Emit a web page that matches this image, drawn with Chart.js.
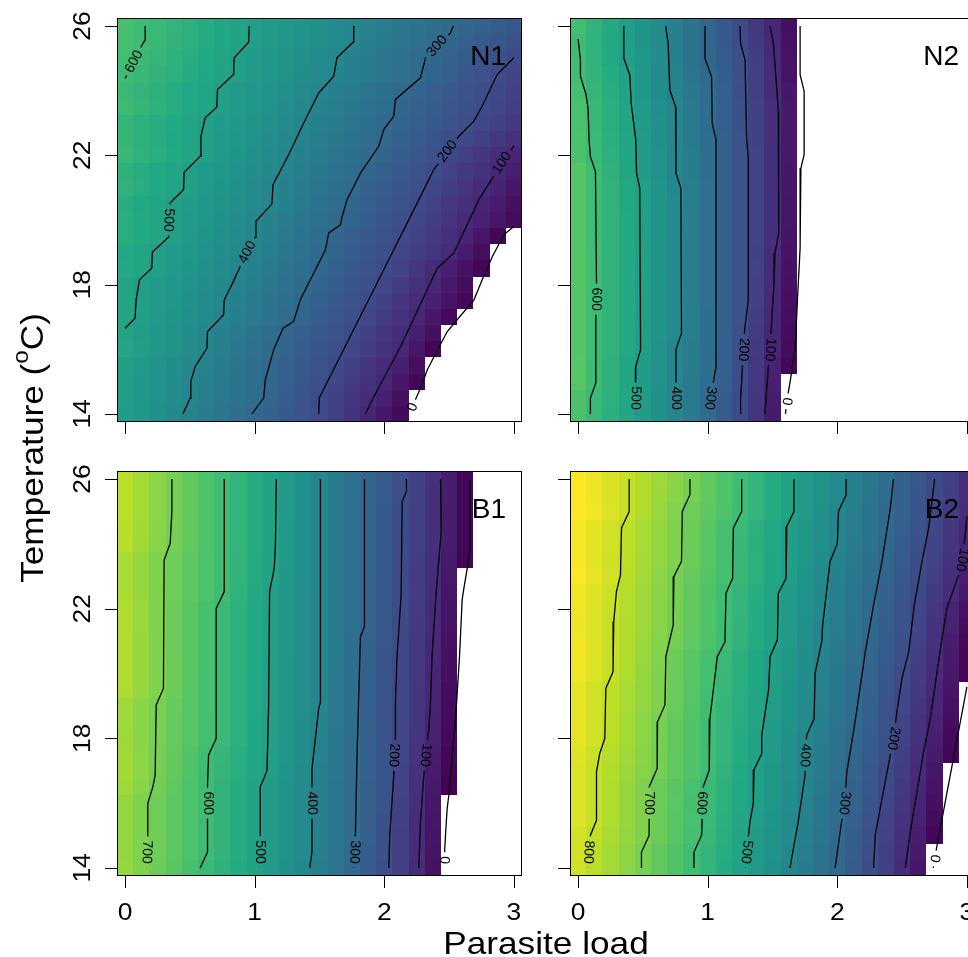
<!DOCTYPE html>
<html>
<head>
<meta charset="utf-8">
<script src="https://cdn.jsdelivr.net/npm/chart.js@4.4.1/dist/chart.umd.min.js"></script>
<style>
html, body { margin: 0; padding: 0; background: #fff; overflow: hidden; width: 968px; height: 957px; }
canvas { position: absolute; left: 0; top: 0; }
</style>
</head>
<body>
<canvas id="n1" width="980" height="957"></canvas>
<canvas id="n2" width="980" height="957"></canvas>
<canvas id="b1" width="980" height="957"></canvas>
<canvas id="b2" width="980" height="957"></canvas>
<script>
// grid of the image cells: temperature rows and parasite-load columns
const tRows = [14, 14.5, 15, 15.5, 16, 16.5, 17, 17.5, 18, 18.5, 19, 19.5, 20, 20.5, 21, 21.5, 22, 22.5, 23, 23.5, 24, 24.5, 25, 25.5, 26];
const xCols = [0, 0.125, 0.25, 0.375, 0.5, 0.625, 0.75, 0.875, 1, 1.125, 1.25, 1.375, 1.5, 1.625, 1.75, 1.875, 2, 2.125, 2.25, 2.375, 2.5, 2.625, 2.75, 2.875, 3];
const xTicks = [0, 1, 2, 3];
const yTicks = [14, 18, 22, 26];
const zMax = 880;

// last coloured column in each row (rows from 14 up to 26), white beyond it
const n1Edge = [2.125, 2.125, 2.25, 2.25, 2.375, 2.375, 2.5, 2.625, 2.625, 2.75, 2.75, 2.875, 3, 3, 3, 3, 3, 3, 3, 3, 3, 3, 3, 3, 3];
const n2Edge = [1.5, 1.5, 1.5, 1.625, 1.625, 1.625, 1.625, 1.625, 1.625, 1.625, 1.625, 1.625, 1.625, 1.625, 1.625, 1.625, 1.625, 1.625, 1.625, 1.625, 1.625, 1.625, 1.625, 1.625, 1.625];
const b1Edge = [2.375, 2.375, 2.375, 2.375, 2.375, 2.5, 2.5, 2.5, 2.5, 2.5, 2.5, 2.5, 2.5, 2.5, 2.5, 2.5, 2.5, 2.5, 2.5, 2.625, 2.625, 2.625, 2.625, 2.625, 2.625];
const b2Edge = [2.625, 2.625, 2.75, 2.75, 2.75, 2.75, 2.75, 2.875, 2.875, 2.875, 2.875, 2.875, 3, 3, 3, 3, 3, 3, 3, 3, 3, 3, 3, 3, 3];

// contour lines, [parasite load, temperature]
const n1_600 = [[0, 24.38], [0.142, 25.5], [0.155, 25.56], [0.155, 26]];
const n1_500 = [[0, 16.65], [0.077, 16.96], [0.085, 17.53], [0.111, 18.15], [0.206, 18.51], [0.211, 19.01], [0.335, 19.47], [0.348, 20.53], [0.451, 20.94], [0.456, 21.48], [0.579, 21.97], [0.585, 22.59], [0.618, 23.16], [0.708, 23.5], [0.713, 24.04], [0.837, 24.5], [0.842, 25.02], [0.953, 25.5], [0.958, 26]];
const n1_400 = [[0.446, 14], [0.502, 14.49], [0.507, 15], [0.541, 15.47], [0.631, 16.03], [0.636, 16.55], [0.76, 17.07], [0.765, 17.53], [0.824, 18], [0.888, 18.56], [1.004, 19.47], [1.01, 19.96], [1.133, 20.5], [1.141, 21.09], [1.262, 22.02], [1.378, 23], [1.494, 23.93], [1.61, 24.45], [1.635, 25.02], [1.759, 25.5], [1.764, 26]];
const n1_300 = [[0.979, 14], [1.069, 14.49], [1.082, 15.05], [1.146, 15.98], [1.218, 16.65], [1.3, 16.86], [1.352, 17.53], [1.442, 18.25], [1.546, 19.08], [1.571, 19.6], [1.662, 19.85], [1.675, 20.11], [1.713, 20.63], [1.816, 21.45], [1.957, 22.28], [1.996, 22.8], [2.073, 23.21], [2.086, 23.73], [2.279, 24.4], [2.318, 25.02], [2.511, 25.79], [2.532, 26]];
const n1_200 = [[1.494, 14], [1.499, 14.5], [1.884, 17.57], [2.267, 20.63], [2.382, 21.56], [2.575, 22.59], [2.691, 23.06], [2.755, 23.52], [2.871, 24.5], [3, 25.02]];
const n1_100 = [[1.855, 14], [1.893, 14.33], [2.125, 16.08], [2.409, 18.51], [2.537, 18.98], [2.73, 20.63], [2.82, 21.2], [3, 22.3]];
const n1_0 = [[2.2, 14], [2.241, 14.45], [2.29, 14.9], [2.331, 15.36], [2.4, 15.9], [2.486, 16.55], [2.58, 17], [2.692, 17.53], [2.76, 18.2], [2.834, 18.87], [2.924, 19.55], [3, 19.8]];

const n2_600 = [[0, 25.6], [0.018, 24.95], [0.018, 24.45], [0.06, 23.9], [0.077, 23.45], [0.085, 22.48], [0.095, 21.96], [0.134, 21.5], [0.142, 18.05], [0.137, 17.07], [0.137, 14.96], [0.095, 14.49], [0.095, 14]];
const n2_500 = [[0.353, 26], [0.353, 25], [0.399, 24.48], [0.41, 23.6], [0.445, 22.48], [0.451, 21.45], [0.476, 20.98], [0.482, 15.99], [0.445, 15.47], [0.445, 14.96], [0.44, 14]];
const n2_400 = [[0.675, 26], [0.695, 25.46], [0.708, 24.02], [0.752, 23.5], [0.755, 21.45], [0.793, 20.98], [0.798, 16.5], [0.755, 15.99], [0.755, 14]];
const n2_300 = [[0.979, 26], [0.979, 25], [1.03, 24.43], [1.035, 22.99], [1.064, 22.48], [1.064, 15.47], [1.043, 14.96], [1.02, 14.49], [1.015, 14]];
const n2_200 = [[1.249, 26], [1.254, 25.46], [1.288, 24.95], [1.3, 22.53], [1.313, 21.91], [1.313, 17.53], [1.285, 16.6], [1.275, 15.99], [1.262, 15], [1.254, 14.49], [1.254, 14]];
const n2_100 = [[1.481, 26], [1.507, 25.46], [1.545, 23.4], [1.55, 21.03], [1.545, 19.59], [1.519, 18.97], [1.512, 18.05], [1.494, 16.91], [1.481, 15.99], [1.468, 15.47], [1.442, 14]];
const n2_0 = [[1.713, 26], [1.713, 24.5], [1.744, 23.99], [1.744, 22.03], [1.719, 21.6], [1.713, 19.13], [1.693, 17.58], [1.675, 16.03], [1.636, 15], [1.61, 14.39], [1.6, 14]];

const b1_700 = [[0.361, 26], [0.361, 25], [0.348, 24.02], [0.301, 23.5], [0.296, 19.54], [0.24, 19.03], [0.232, 16.86], [0.214, 16.5], [0.175, 15.99], [0.175, 15], [0.167, 14]];
const b1_600 = [[0.765, 26], [0.765, 22.53], [0.703, 22.01], [0.703, 18], [0.644, 17.48], [0.636, 16.55], [0.636, 14.49], [0.579, 14]];
const b1_500 = [[1.167, 26], [1.16, 24], [1.151, 23.25], [1.115, 22.53], [1.107, 18.92], [1.095, 17], [1.043, 16.5], [1.043, 14]];
const b1_400 = [[1.507, 26], [1.507, 19.13], [1.494, 18.92], [1.442, 17.07], [1.442, 14.49], [1.424, 14]];
const b1_300 = [[1.847, 26], [1.847, 21.45], [1.816, 21.14], [1.79, 17.53], [1.777, 15], [1.764, 14]];
const b1_200 = [[2.171, 26], [2.171, 25.62], [2.138, 25.31], [2.13, 22.42], [2.099, 20.57], [2.086, 19.13], [2.086, 18.1], [2.073, 16.86], [2.042, 15], [2.035, 14]];
const b1_100 = [[2.434, 26], [2.439, 24.38], [2.4, 22.5], [2.369, 20.57], [2.357, 19.13], [2.344, 18.3], [2.318, 17.48], [2.305, 16.86], [2.279, 15.42], [2.266, 14]];
const b1_0 = [[2.66, 26], [2.66, 23.8], [2.64, 23.25], [2.614, 22.63], [2.601, 22.29], [2.58, 20.5], [2.55, 18.61], [2.498, 16.25], [2.485, 15.83], [2.472, 15], [2.459, 14]];

const b2_800 = [[0.394, 26], [0.394, 25], [0.335, 24.49], [0.327, 23.04], [0.296, 22.53], [0.275, 21.6], [0.27, 20.06], [0.214, 19.54], [0.206, 18], [0.167, 17.53], [0.142, 16.97], [0.142, 15.47], [0.095, 15.01], [0.08, 14]];
const b2_700 = [[0.863, 26], [0.863, 25.52], [0.804, 25], [0.798, 23.46], [0.739, 22.99], [0.734, 21.5], [0.677, 20.52], [0.67, 19.03], [0.613, 18.51], [0.61, 17.07], [0.548, 16.5], [0.548, 15], [0.489, 14.49], [0.489, 14]];
const b2_600 = [[1.262, 26], [1.262, 25], [1.198, 24.49], [1.192, 22.94], [1.141, 22.48], [1.133, 20.98], [1.074, 20.52], [1.017, 18.61], [1.012, 17.02], [0.966, 16.5], [0.953, 15.01], [0.894, 14.49], [0.894, 14]];
const b2_500 = [[1.666, 26], [1.666, 25], [1.61, 24.54], [1.605, 22.94], [1.545, 22.48], [1.538, 21.04], [1.481, 20.52], [1.47, 19.5], [1.417, 18.1], [1.417, 17.53], [1.357, 17.02], [1.352, 15.99], [1.326, 15.42], [1.3, 14.49], [1.29, 14]];
const b2_400 = [[2.068, 26], [2.068, 25.52], [2.009, 25], [2, 24], [1.944, 23.46], [1.887, 21.5], [1.88, 20.98], [1.829, 20.01], [1.821, 18.61], [1.764, 18.1], [1.751, 17.48], [1.751, 16.86], [1.7, 15.47], [1.635, 14]];
const b2_300 = [[2.434, 26], [2.409, 25.1], [2.345, 23.46], [2.28, 22.12], [2.216, 20.67], [2.164, 19.23], [2.125, 18.2], [2.074, 16.97], [2.055, 16.05], [2.035, 15.47], [1.983, 14]];
const b2_200 = [[2.751, 26], [2.705, 24.49], [2.654, 23.46], [2.594, 22.12], [2.551, 20.67], [2.499, 19.85], [2.46, 18.82], [2.434, 18], [2.409, 17.48], [2.345, 16.14], [2.293, 15.01], [2.28, 14]];
const b2_100 = [[3, 24.85], [2.985, 24.2], [2.963, 23.51], [2.937, 23.05], [2.847, 22.02], [2.808, 21.09], [2.77, 20.06], [2.718, 18.62], [2.666, 17.58], [2.615, 16.35], [2.563, 15.11], [2.525, 14]];
const b2_0 = [[2.74, 14], [2.77, 14.7], [3, 19.59]];

// contour labels: [level, parasite load, temperature]
const n1Labels = [[600, 0.07, 24.9], [500, 0.335, 20], [400, 0.944, 19], [300, 2.408, 25.38], [200, 2.489, 22.13], [100, 2.91, 21.76], [0, 2.22, 14.21]];
const n2Labels = [[600, 0.14, 17.55], [500, 0.443, 14.49], [400, 0.755, 14.49], [300, 1.02, 14.49], [200, 1.275, 15.99], [100, 1.481, 15.99], [0, 1.61, 14.39]];
const b1Labels = [[700, 0.167, 14.49], [600, 0.636, 16.0], [500, 1.043, 14.49], [400, 1.442, 16.0], [300, 1.77, 14.49], [200, 2.073, 17.48], [100, 2.318, 17.48], [0, 2.462, 14.24]];
const b2Labels = [[800, 0.08, 14.49], [700, 0.548, 16.0], [600, 0.953, 16.0], [500, 1.3, 14.49], [400, 1.751, 17.48], [300, 2.055, 16.0], [200, 2.434, 18], [100, 2.963, 23.51], [0, 2.751, 14.29]];

const viridis = ['#440154', '#482475', '#414487', '#355f8d', '#2a788e', '#21918c', '#22a884', '#44bf70', '#7ad151', '#bddf26', '#fde725'];
const FONT = '"Liberation Sans", Arial, Helvetica, sans-serif';

const panels = [
    { id: 'n1', name: 'N1', box: [117, 18, 522, 422], levels: [600, 500, 400, 300, 200, 100, 0], lines: [n1_600, n1_500, n1_400, n1_300, n1_200, n1_100, n1_0], labels: n1Labels, edge: n1Edge, xLab: false, yLab: true, titles: true },
    { id: 'n2', name: 'N2', box: [570, 18, 975, 422], levels: [600, 500, 400, 300, 200, 100, 0], lines: [n2_600, n2_500, n2_400, n2_300, n2_200, n2_100, n2_0], labels: n2Labels, edge: n2Edge, xLab: false, yLab: false },
    { id: 'b1', name: 'B1', box: [117, 471, 522, 876], levels: [700, 600, 500, 400, 300, 200, 100, 0], lines: [b1_700, b1_600, b1_500, b1_400, b1_300, b1_200, b1_100, b1_0], labels: b1Labels, edge: b1Edge, xLab: true, yLab: true },
    { id: 'b2', name: 'B2', box: [570, 471, 975, 876], levels: [800, 700, 600, 500, 400, 300, 200, 100, 0], lines: [b2_800, b2_700, b2_600, b2_500, b2_400, b2_300, b2_200, b2_100, b2_0], labels: b2Labels, edge: b2Edge, xLab: true, yLab: false }
];

function crossAt(line, t) {
    for (let i = 0; i < line.length - 1; i++) {
        const p = line[i], q = line[i + 1];
        if (p[1] === q[1]) continue;
        if (t >= Math.min(p[1], q[1]) && t <= Math.max(p[1], q[1])) {
            return p[0] + (t - p[1]) / (q[1] - p[1]) * (q[0] - p[0]);
        }
    }
    return null;
}

function valueAt(p, x, t) {
    const pts = [];
    p.levels.forEach((lv, k) => {
        const cx = crossAt(p.lines[k], t);
        if (cx !== null) pts.push([cx, lv]);
    });
    pts.sort((a, b) => a[0] - b[0]);
    let i = 0;
    while (i < pts.length - 2 && x > pts[i + 1][0]) i++;
    const a = pts[i], b = pts[i + 1];
    return a[1] + (x - a[0]) / (b[0] - a[0]) * (b[1] - a[1]);
}

function hexRgb(h) {
    return [parseInt(h.slice(1, 3), 16), parseInt(h.slice(3, 5), 16), parseInt(h.slice(5, 7), 16)];
}

function colorFor(v) {
    let f = Math.min(1, Math.max(0, v / zMax)) * (viridis.length - 1);
    const i = Math.min(Math.floor(f), viridis.length - 2);
    f -= i;
    const a = hexRgb(viridis[i]), b = hexRgb(viridis[i + 1]);
    return 'rgb(' + a.map((c, k) => Math.round(c + (b[k] - c) * f)).join(',') + ')';
}

function txt(ctx, s, x, y, size, rot, sx, align, base) {
    ctx.save();
    ctx.translate(x, y);
    ctx.rotate(rot);
    ctx.scale(sx, 1);
    ctx.font = size + 'px ' + FONT;
    ctx.textAlign = align;
    ctx.textBaseline = base;
    ctx.fillStyle = '#000';
    ctx.fillText(s, 0, 0);
    ctx.restore();
}

function labelBoxes(chart, p) {
    const xs = chart.scales.x, ys = chart.scales.y, ctx = chart.ctx;
    ctx.font = '14px ' + FONT;
    return p.labels.map(lb => {
        const line = p.lines[p.levels.indexOf(lb[0])];
        const ts = line.map(q => q[1]);
        const t1 = Math.max(lb[2] - 0.5, Math.min(...ts)), t2 = Math.min(lb[2] + 0.5, Math.max(...ts));
        const x1 = crossAt(line, t1), x2 = crossAt(line, t2);
        let a = Math.atan2(ys.getPixelForValue(t2) - ys.getPixelForValue(t1), xs.getPixelForValue(x2) - xs.getPixelForValue(x1));
        if (a < -75 * Math.PI / 180) a += Math.PI;
        return { text: String(lb[0]), x: xs.getPixelForValue(lb[1]), y: ys.getPixelForValue(lb[2]), a: a, w: ctx.measureText(String(lb[0])).width };
    });
}

function makeHeat(p) {
    let boxes = [];
    return {
        id: 'heat' + p.id,
        beforeDatasetsDraw(chart) {
            const ctx = chart.ctx, xs = chart.scales.x, ys = chart.scales.y;
            tRows.forEach((t, i) => {
                xCols.forEach(x => {
                    if (x > p.edge[i] + 1e-9) return;
                    ctx.fillStyle = colorFor(Math.max(0, valueAt(p, x, t)));
                    const x0 = Math.round(xs.getPixelForValue(x - 0.0625)), x1 = Math.round(xs.getPixelForValue(x + 0.0625));
                    const y0 = Math.round(ys.getPixelForValue(t + 0.25)), y1 = Math.round(ys.getPixelForValue(t - 0.25));
                    ctx.fillRect(x0, y0, x1 - x0, y1 - y0);
                });
            });
            // cut the contour lines where their labels sit
            boxes = labelBoxes(chart, p);
            ctx.save();
            ctx.beginPath();
            ctx.rect(0, 0, chart.width, chart.height);
            boxes.forEach(b => {
                const hw = b.w / 2 + 4, hh = 8, c = Math.cos(b.a), s = Math.sin(b.a);
                [[-hw, -hh], [hw, -hh], [hw, hh], [-hw, hh]].forEach((d, k) => {
                    const px = b.x + d[0] * c - d[1] * s, py = b.y + d[0] * s + d[1] * c;
                    if (k === 0) ctx.moveTo(px, py); else ctx.lineTo(px, py);
                });
                ctx.closePath();
            });
            ctx.clip('evenodd');
        },
        afterDatasetsDraw(chart) {
            const ctx = chart.ctx, xs = chart.scales.x, ys = chart.scales.y, ca = chart.chartArea;
            ctx.restore();
            boxes.forEach(b => txt(ctx, b.text, b.x, b.y, 14, b.a, 1, 'center', 'middle'));

            ctx.strokeStyle = '#000';
            ctx.lineWidth = 1;
            ctx.strokeRect(ca.left + 0.5, ca.top + 0.5, ca.right - ca.left - 1, ca.bottom - ca.top - 1);

            ctx.beginPath();
            xTicks.forEach(v => {
                const px = Math.round(xs.getPixelForValue(v)) + 0.5;
                ctx.moveTo(px, ca.bottom);
                ctx.lineTo(px, ca.bottom + 12);
            });
            yTicks.forEach(v => {
                const py = Math.round(ys.getPixelForValue(v)) + 0.5;
                ctx.moveTo(ca.left, py);
                ctx.lineTo(ca.left - 12, py);
            });
            ctx.stroke();

            if (p.xLab) xTicks.forEach(v => txt(ctx, String(v), xs.getPixelForValue(v), ca.bottom + 44, 24, 0, 1.1, 'center', 'alphabetic'));
            if (p.yLab) yTicks.forEach(v => txt(ctx, String(v), ca.left - 27, ys.getPixelForValue(v), 24, -Math.PI / 2, 1.1, 'center', 'alphabetic'));

            txt(ctx, p.name, ca.right - 16, ca.top + 47, 28, 0, 1, 'right', 'alphabetic');

            if (p.titles) {
                txt(ctx, 'Parasite load', 546, 954, 32, 0, 1.1, 'center', 'alphabetic');
                // y title with a raised "o" for degrees
                ctx.font = '32px ' + FONT;
                const w1 = ctx.measureText('Temperature (').width * 1.1;
                const w3 = ctx.measureText('C)').width * 1.1;
                ctx.font = '22px ' + FONT;
                const w2 = ctx.measureText('o').width * 1.1;
                const total = w1 + w2 + w3;
                ctx.save();
                ctx.translate(43, 448);
                ctx.rotate(-Math.PI / 2);
                txt(ctx, 'Temperature (', -total / 2, 0, 32, 0, 1.1, 'left', 'alphabetic');
                txt(ctx, 'o', -total / 2 + w1, -15, 22, 0, 1.1, 'left', 'alphabetic');
                txt(ctx, 'C)', -total / 2 + w1 + w2, 0, 32, 0, 1.1, 'left', 'alphabetic');
                ctx.restore();
            }
        }
    };
}

panels.forEach(p => {
    new Chart(document.getElementById(p.id), {
        type: 'scatter',
        data: {
            datasets: p.lines.map((line, k) => ({
                label: String(p.levels[k]),
                data: line.map(q => ({ x: q[0], y: q[1] })),
                showLine: true,
                borderColor: '#000',
                borderWidth: 1.3,
                pointRadius: 0,
                fill: false,
                tension: 0
            }))
        },
        options: {
            responsive: false,
            animation: false,
            devicePixelRatio: 1,
            events: [],
            layout: { padding: { left: p.box[0], top: p.box[1], right: 980 - p.box[2], bottom: 957 - p.box[3] } },
            scales: {
                x: { type: 'linear', min: -0.0625, max: 3.0625, display: false },
                y: { type: 'linear', min: 13.75, max: 26.25, display: false }
            },
            plugins: { legend: { display: false }, tooltip: { enabled: false } }
        },
        plugins: [makeHeat(p)]
    });
});
</script>
</body>
</html>
